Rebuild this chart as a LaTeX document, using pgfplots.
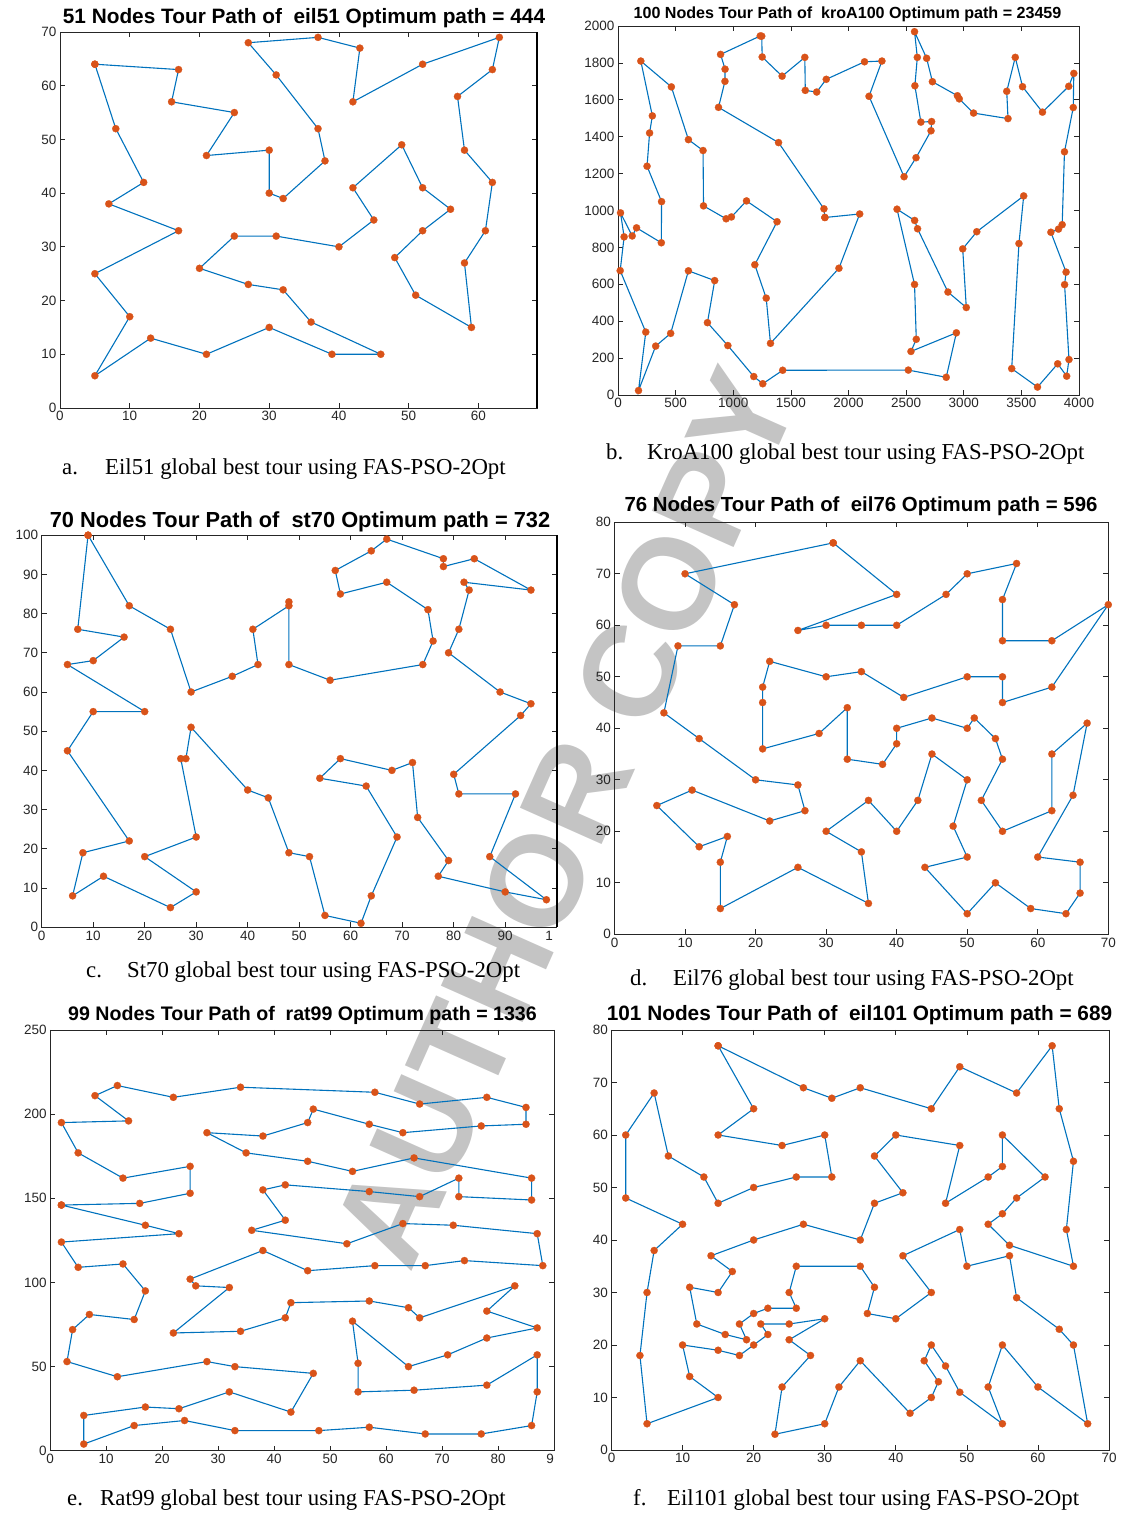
\documentclass[border=0pt]{standalone}
\usepackage{pgfplots}
\pgfplotsset{compat=1.18}
\usepackage{fontspec}
\setmainfont{Liberation Serif}
\newfontfamily\sansf{Liberation Sans}
\definecolor{mblue}{HTML}{0072BD}
\definecolor{morange}{HTML}{D95319}
\definecolor{axgray}{HTML}{262626}
\definecolor{wmgray}{HTML}{C4C4C4}
\newcommand{\tickf}{\sansf\fontsize{13.5}{14}\selectfont}
\pgfplotsset{
  tsp/.style={
    anchor=south west, scale only axis,
    axis line style={draw=axgray, line width=0.7pt},
    tick align=inside, major tick length=5pt,
    every tick/.style={draw=axgray, line width=0.7pt},
    ticklabel style={font=\tickf, text=axgray},
    /pgf/number format/assume math mode=true,
    /pgf/number format/1000 sep={},
    clip=false, enlargelimits=false,
  },
  tour/.style={color=mblue, line width=1.1pt, mark=*, mark size=3.6pt,
    mark options={draw=morange, fill=morange, line width=0.2pt}},
}
\begin{document}
\begin{tikzpicture}[x=1pt,y=1pt]
\useasboundingbox (0,0) rectangle (1121,1513);
% watermark
\node[rotate=66, text=wmgray, font=\sansf\bfseries\fontsize{130}{130}\selectfont, inner sep=0pt] at (565,695) {AUTHOR COPY};

% ---------- a: eil51
\begin{axis}[tsp, at={(60pt,1105pt)}, width=477pt, height=376pt,
  xmin=0, xmax=68.4, ymin=0, ymax=70,
  xtick={0,10,...,60}, ytick={0,10,...,70}]
\addplot[tour] coordinates {
(5,64) (17,63) (16,57) (25,55) (21,47) (30,48) (30,40) (32,39) (38,46) (37,52)
(31,62) (27,68) (37,69) (43,67) (42,57) (52,64) (63,69) (62,63) (57,58) (58,48)
(62,42) (61,33) (58,27) (59,15) (51,21) (48,28) (52,33) (56,37) (52,41) (49,49)
(42,41) (45,35) (40,30) (31,32) (25,32) (20,26) (27,23) (32,22) (36,16) (46,10)
(39,10) (30,15) (21,10) (13,13) (5,6) (10,17) (5,25) (17,33) (7,38) (12,42)
(8,52) (5,64)};
\draw[black, line width=1.6pt] (rel axis cs:1,0) -- (rel axis cs:1,1);
\end{axis}

% ---------- b: kroA100
\begin{axis}[tsp, at={(618pt,1118pt)}, width=461pt, height=369pt,
  xmin=0, xmax=4000, ymin=0, ymax=2000,
  xtick={0,500,...,4000}, ytick={0,200,...,2000}]
\addplot[tour] coordinates {
(1795,962) (2097,981) (1917,687) (1323,280) (1286,525) (1187,706) (1380,939) (1115,1052) (984,965) (938,955)
(742,1025) (738,1325) (611,1384) (463,1670) (198,1810) (298,1513) (274,1420) (252,1240) (378,1048) (376,825)
(161,906) (123,862) (22,987) (53,857) (19,674) (241,341) (178,24) (327,265) (457,334) (611,673)
(839,620) (776,392) (953,268) (1178,100) (1256,61) (1429,134) (2519,135) (2848,96) (2936,337) (2542,236)
(2588,302) (2573,599) (2421,1007) (2574,946) (2599,901) (2863,558) (3022,474) (2991,792) (3113,885) (3520,1079)
(3479,821) (3416,143) (3640,43) (3815,169) (3893,102) (3913,192) (3875,598) (3888,666) (3756,882) (3822,899)
(3854,923) (3874,1318) (3950,1558) (3955,1743) (3911,1673) (3683,1533) (3510,1671) (3447,1830) (3373,1646) (3384,1498)
(3085,1528) (2961,1605) (2945,1622) (2728,1698) (2678,1825) (2573,1969) (2597,1830) (2576,1676) (2628,1479) (2721,1482)
(2716,1432) (2586,1286) (2482,1183) (2178,1619) (2290,1810) (2139,1806) (1807,1711) (1724,1642) (1625,1651) (1621,1830)
(1424,1728) (1251,1832) (1247,1945) (1234,1946) (890,1846) (929,1766) (928,1700) (872,1559) (1393,1368) (1787,1009)
(1795,962)};
\end{axis}

% ---------- c: st70
\begin{axis}[tsp, at={(41.7pt,585.8pt)}, width=515pt, height=392pt,
  xmin=0, xmax=100, ymin=0, ymax=100,
  xtick={0,10,...,100}, ytick={0,10,...,100},
  xticklabels={0,10,20,30,40,50,60,70,80,90,1\phantom{00}}]
\addplot[tour] coordinates {
(9,100) (17,82) (25,76) (29,60) (37,64) (42,67) (41,76) (48,82) (48,83) (48,67)
(56,63) (74,67) (76,73) (75,81) (67,88) (58,85) (57,91) (64,96) (67,99) (78,94)
(78,92) (84,94) (95,86) (82,88) (83,86) (81,76) (79,70) (89,60) (95,57) (93,54)
(80,39) (81,34) (92,34) (87,18) (98,7) (90,9) (77,13) (79,17) (73,28) (72,42)
(68,40) (58,43) (54,38) (63,36) (69,23) (64,8) (62,1) (55,3) (52,18) (48,19)
(44,33) (40,35) (29,51) (28,43) (27,43) (30,23) (20,18) (30,9) (25,5) (12,13)
(6,8) (8,19) (17,22) (5,45) (10,55) (20,55) (5,67) (10,68) (16,74) (7,76)
(9,100)};
\draw[black, line width=1.6pt] (rel axis cs:1,0) -- (rel axis cs:1,1);
\end{axis}

% ---------- d: eil76
\begin{axis}[tsp, at={(614.5pt,578.7pt)}, width=493.8pt, height=412pt,
  xmin=0, xmax=70, ymin=0, ymax=80,
  xtick={0,10,...,70}, ytick={0,10,...,80}]
\addplot[tour] coordinates {
(31,76) (10,70) (17,64) (15,56) (9,56) (7,43) (12,38) (20,30) (26,29) (27,24)
(22,22) (11,28) (6,25) (12,17) (16,19) (15,14) (15,5) (26,13) (36,6) (35,16)
(30,20) (36,26) (40,20) (43,26) (45,35) (50,30) (48,21) (50,15) (44,13) (50,4)
(54,10) (59,5) (64,4) (66,8) (66,14) (60,15) (65,27) (67,41) (62,35) (62,24)
(55,20) (52,26) (55,34) (54,38) (51,42) (50,40) (45,42) (40,40) (40,37) (38,33)
(33,34) (33,44) (29,39) (21,36) (21,45) (21,48) (22,53) (30,50) (35,51) (41,46)
(50,50) (55,50) (55,45) (62,48) (70,64) (62,57) (55,57) (55,65) (57,72) (50,70)
(47,66) (40,60) (35,60) (30,60) (26,59) (40,66) (31,76)};
\end{axis}

% ---------- e: rat99
\begin{axis}[tsp, at={(50.2pt,62.2pt)}, width=503.8pt, height=420.8pt,
  xmin=0, xmax=90, ymin=0, ymax=250,
  xtick={0,10,...,90}, ytick={0,50,...,250},
  xticklabels={0,10,20,30,40,50,60,70,80,9\phantom{0}}]
\addplot[tour] coordinates {
(2,146) (16,147) (25,153) (25,169) (13,162) (5,177) (2,195) (14,196) (8,211) (12,217)
(22,210) (34,216) (58,213) (66,206) (78,210) (85,204) (85,194) (77,193) (63,189) (57,194)
(47,203) (46,195) (38,187) (28,189) (35,177) (46,172) (54,166) (65,174) (86,162) (86,149)
(73,151) (73,162) (66,151) (57,154) (42,158) (38,155) (42,137) (36,131) (53,123) (63,135)
(72,134) (87,129) (88,110) (74,113) (67,110) (58,110) (46,107) (38,119) (25,102) (26,98)
(32,97) (22,70) (34,71) (42,79) (43,88) (57,89) (64,85) (66,79) (83,98) (78,83)
(87,73) (78,67) (71,57) (64,50) (54,77) (55,52) (55,35) (65,36) (78,39) (87,57)
(87,35) (86,15) (77,10) (67,10) (57,14) (48,12) (33,12) (24,18) (15,15) (6,4)
(6,21) (17,26) (23,25) (32,35) (43,23) (47,46) (33,50) (28,53) (12,44) (3,53)
(4,72) (7,81) (15,78) (17,95) (13,111) (5,109) (2,124) (23,129) (17,134) (2,146)};
\end{axis}

% ---------- f: eil101
\begin{axis}[tsp, at={(611.5pt,63pt)}, width=497.5pt, height=420pt,
  xmin=0, xmax=70, ymin=0, ymax=80,
  xtick={0,10,...,70}, ytick={0,10,...,80}]
\addplot[tour] coordinates {
(15,77) (27,69) (31,67) (35,69) (45,65) (49,73) (57,68) (62,77) (63,65) (65,55)
(64,42) (65,35) (56,39) (53,43) (55,45) (57,48) (61,52) (55,60) (55,54) (53,52)
(47,47) (49,58) (40,60) (37,56) (41,49) (37,47) (35,40) (27,43) (20,40) (14,37)
(17,34) (15,30) (11,31) (12,24) (16,22) (19,21) (18,24) (20,26) (22,27) (26,27)
(25,30) (26,35) (35,35) (37,31) (36,26) (40,25) (45,30) (41,37) (49,42) (50,35)
(56,37) (57,29) (63,23) (65,20) (67,5) (60,12) (55,20) (53,12) (55,5) (49,11)
(47,16) (45,20) (44,17) (46,13) (45,10) (42,7) (35,17) (32,12) (30,5) (23,3)
(24,12) (28,18) (25,21) (30,25) (25,24) (21,24) (22,22) (20,20) (18,18) (15,19)
(10,20) (11,14) (15,10) (5,5) (4,18) (5,30) (6,38) (10,43) (2,48) (2,60)
(6,68) (8,56) (13,52) (15,47) (20,50) (26,52) (31,52) (30,60) (24,58) (15,60)
(20,65) (15,77)};
\end{axis}

% ---------- titles
\begin{scope}[every node/.style={anchor=base, inner sep=0pt}]
\node[font=\sansf\bfseries\fontsize{20.8}{22}\selectfont] at (304,1489) {51 Nodes Tour Path of\ \ eil51 Optimum path = 444};
\node[font=\sansf\bfseries\fontsize{16.1}{18}\selectfont] at (847.5,1494) {100 Nodes Tour Path of\ \ kroA100 Optimum path = 23459};
\node[font=\sansf\bfseries\fontsize{21.8}{23}\selectfont] at (300,985) {70 Nodes Tour Path of\ \ st70 Optimum path = 732};
\node[font=\sansf\bfseries\fontsize{20.4}{22}\selectfont] at (861,1001) {76 Nodes Tour Path of\ \ eil76 Optimum path = 596};
\node[font=\sansf\bfseries\fontsize{19.6}{21}\selectfont] at (302.5,492) {99 Nodes Tour Path of\ \ rat99 Optimum path = 1336};
\node[font=\sansf\bfseries\fontsize{20.8}{22}\selectfont] at (859.5,492) {101 Nodes Tour Path of\ \ eil101 Optimum path = 689};
\end{scope}

% ---------- captions
\begin{scope}[every node/.style={anchor=base west, inner sep=0pt, font=\fontsize{22.8}{24}\selectfont}]
\node at (62,1038) {a.}; \node at (105,1038) {Eil51 global best tour using FAS-PSO-2Opt};
\node at (606,1053) {b.}; \node at (647,1053) {KroA100 global best tour using FAS-PSO-2Opt};
\node at (86,535) {c.}; \node at (127,535) {St70 global best tour using FAS-PSO-2Opt};
\node at (630,527) {d.}; \node at (673,527) {Eil76 global best tour using FAS-PSO-2Opt};
\node at (67,8) {e.}; \node at (100,8) {Rat99 global best tour using FAS-PSO-2Opt};
\node at (633,8) {f.}; \node at (667,8) {Eil101 global best tour using FAS-PSO-2Opt};
\end{scope}
\end{tikzpicture}
\end{document}
